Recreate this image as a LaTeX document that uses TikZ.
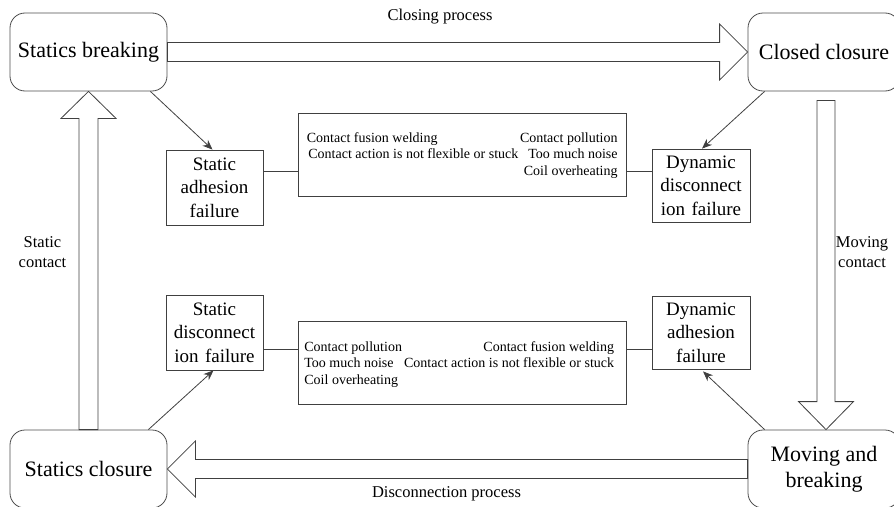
\documentclass[tikz,border=0pt]{standalone}
\usepackage{fontspec}
\setmainfont{Liberation Serif}
\usetikzlibrary{calc,arrows.meta}
\begin{document}
\begin{tikzpicture}[x=1pt,y=-1pt,
  line width=0.8pt,
  bigbox/.style={draw=black!70, rounded corners=15pt, minimum height=78pt, inner sep=2pt, align=center, font=\fontsize{22}{26}\selectfont},
  smallbox/.style={draw=black!75, align=center, text width=91pt, inner xsep=3pt, inner ysep=2pt, font=\fontsize{19}{23.5}\selectfont},
  listbox/.style={draw=black!75, minimum width=328pt, minimum height=83pt, inner sep=0pt},
  listtxt/.style={inner sep=0pt, font=\fontsize{14}{16.5}\selectfont},
  lbl/.style={inner sep=0pt, align=center, font=\fontsize{16.5}{20}\selectfont},
  blk/.style={draw=black!75, fill=white, line join=miter},
  link/.style={draw=black!75},
  con/.style={draw=black!75, -{Stealth[length=10pt,width=8pt]}}
]
\useasboundingbox (0,0) rectangle (894,506);

% main state boxes
\node[bigbox, minimum width=157pt] (sb) at (88.5,52) {Statics breaking};
\node[bigbox, minimum width=152pt] (cc) at (824,52) {Closed closure};
\node[bigbox, minimum width=157pt] (sc) at (88.5,469) {Statics closure};
\node[bigbox, minimum width=152pt] (mb) at (824,469) {Moving and\\breaking};

% failure boxes
\node[smallbox, minimum height=75pt] (sa) at (214.5,187.5) {Static\\adhesion\\failure};
\node[smallbox, minimum height=73pt, text width=92pt] (dd) at (701,185.5) {Dynamic\\disconnect\\ion failure};
\node[smallbox, minimum height=75pt] (sdf) at (214.5,332.5) {Static\\disconnect\\ion failure};
\node[smallbox, minimum height=73pt, text width=92pt] (da) at (701,332.5) {Dynamic\\adhesion\\failure};

% list boxes
\node[listbox] (mt) at (462,154.5) {};
\node[listbox] (mbx) at (462,362.5) {};

\node[listtxt, anchor=base west] (t1) at (306.5,142) {Contact fusion welding};
\node[listtxt, anchor=base west] (t2) at (308,158.5) {Contact action is not flexible or stuck};
\node[listtxt, anchor=base east] (t3) at (618,142) {Contact pollution};
\node[listtxt, anchor=base east] (t4) at (618,158.5) {Too much noise};
\node[listtxt, anchor=base east] (t5) at (618,175) {Coil overheating};

\node[listtxt, anchor=base west] (b1) at (304,351) {Contact pollution};
\node[listtxt, anchor=base west] (b2) at (304,367.5) {Too much noise};
\node[listtxt, anchor=base west] (b3) at (304,384) {Coil overheating};
\node[listtxt, anchor=base east] (b4) at (614.5,351) {Contact fusion welding};
\node[listtxt, anchor=base east] (b5) at (614.5,367.5) {Contact action is not flexible or stuck};

% labels
\node[lbl] (l1) at (440,17) {Closing process};
\node[lbl] (l2) at (446.5,494) {Disconnection process};
\node[lbl] (l3) at (42.5,252) {Static\\contact};
\node[lbl] (l4) at (862,252) {Moving\\contact};

% block arrows
\draw[blk] ($(sb.east)+(0,-9.5)$) -- ($(cc.west)+(-28,-9.5)$) -- ($(cc.west)+(-28,-28)$) -- (cc.west)
  -- ($(cc.west)+(-28,28)$) -- ($(cc.west)+(-28,9.5)$) -- ($(sb.east)+(0,9.5)$) -- cycle;
\draw[blk] ($(mb.west)+(0,-9.5)$) -- ($(sc.east)+(28,-9.5)$) -- ($(sc.east)+(28,-28)$) -- (sc.east)
  -- ($(sc.east)+(28,28)$) -- ($(sc.east)+(28,9.5)$) -- ($(mb.west)+(0,9.5)$) -- cycle;
\draw[blk] ($(sc.north)+(-9.5,0)$) -- ($(sb.south)+(-9.5,27)$) -- ($(sb.south)+(-27.5,27)$) -- (sb.south)
  -- ($(sb.south)+(27.5,27)$) -- ($(sb.south)+(9.5,27)$) -- ($(sc.north)+(9.5,0)$) -- cycle;
\coordinate (rs) at ($(cc.south)+(2,9)$);
\coordinate (rt) at ($(mb.north)+(2,0)$);
\draw[blk] ($(rs)+(-9,0)$) -- ($(rt)+(-9,-28)$) -- ($(rt)+(-27.5,-28)$) -- (rt)
  -- ($(rt)+(27.5,-28)$) -- ($(rt)+(9,-28)$) -- ($(rs)+(9,0)$) -- cycle;

% diagonal arrows
\draw[con] ($(sb.south east)+(-17,0)$) -- ($(sa.north)+(-2,0)$);
\draw[con] ($(cc.south west)+(17,0)$) -- ($(dd.north)+(1,0)$);
\draw[con] ($(sc.north east)+(-19,0)$) -- ($(sdf.south)+(-1,0)$);
\draw[con] ($(mb.north west)+(17,0)$) -- ($(da.south)+(2,2)$);

% connectors to list boxes
\draw[link] ([yshift=16pt]sa.east) -- ([yshift=16pt]sa.east -| mt.west);
\draw[link] ([yshift=16pt]sa.east -| mt.east) -- ([yshift=16pt]sa.east -| dd.west);
\draw[link] ([yshift=-16.5pt]sdf.east) -- ([yshift=-16.5pt]sdf.east -| mbx.west);
\draw[link] ([yshift=-16.5pt]sdf.east -| mbx.east) -- ([yshift=-16.5pt]sdf.east -| da.west);
\end{tikzpicture}
\end{document}
